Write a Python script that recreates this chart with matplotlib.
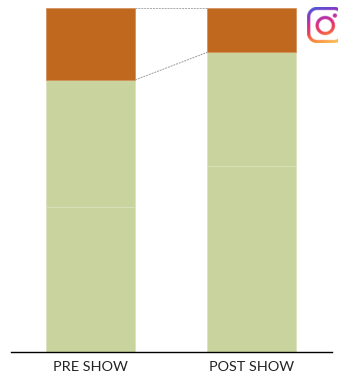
import numpy as np
from matplotlib import pyplot as plt
from matplotlib.colors import LinearSegmentedColormap

W, H = 338, 379

categories = ['PRE SHOW', 'POST SHOW']
bottom_seg = [42.2, 54.1]
middle_seg = [36.9, 33.0]
top_seg = [20.9, 12.9]

GREEN = '#c9d39d'
ORANGE = '#c1681f'


def add_icon(fig):
    # instagram logo, runs off the right edge of the picture
    ax = fig.add_axes([0, 0, 1, 1], facecolor='none')
    x0, x1, y0, y1 = 306.5, 343.0, 7.5, 43.5
    xs = np.linspace(x0, x1, 300)
    ys = np.linspace(y0, y1, 300)
    xx, yy = np.meshgrid(xs, ys)
    cx, cy = (x0 + x1) / 2, (y0 + y1) / 2
    half = (x1 - x0) / 2

    # rounded square outline, ring and dot as distance fields
    qx = np.abs(xx - cx) - (half - 10)
    qy = np.abs(yy - cy) - (half - 10)
    box = np.hypot(np.maximum(qx, 0), np.maximum(qy, 0)) + np.minimum(np.maximum(qx, qy), 0) - 10
    a_box = np.clip(.5 - (np.abs(box + 1.6) - 1.6) / .4, 0, 1)
    ring = np.hypot(xx - 324.5, yy - 26)
    a_ring = np.clip(.5 - (np.abs(ring - 8) - 1.6) / .4, 0, 1)
    dot = np.hypot(xx - 334, yy - 16)
    a_dot = np.clip(.5 - (dot - 2.1) / .4, 0, 1)
    alpha = np.maximum(np.maximum(a_box, a_ring), a_dot)

    u = (xx - x0) / (x1 - x0)
    v = (yy - y0) / (y1 - y0)
    t = np.clip(.85 * (1 - v) + .25 * (1 - u) - .05, 0, 1)
    cmap = LinearSegmentedColormap.from_list(
        'ig', ['#fdc95f', '#f7873a', '#ee3f55', '#d52d8f', '#8f35c0', '#4a5ad8'])
    rgba = cmap(t)
    rgba[..., 3] = alpha
    ax.imshow(rgba, extent=(x0, x1, y1, y0), aspect='auto', interpolation='bilinear')
    ax.set_xlim(0, W)
    ax.set_ylim(H, 0)
    ax.axis('off')


def generate_chart():
    fig = plt.figure(figsize=(W / 100, H / 100), dpi=100, facecolor='white')
    ax = fig.add_axes([11 / W, (H - 352) / H, 321 / W, 344 / H])
    ind = np.arange(len(categories))
    width = .553
    bottom = np.array(bottom_seg)
    middle = np.array(middle_seg)
    top = np.array(top_seg)
    ax.bar(ind, bottom, width=width, color=GREEN, edgecolor='#dbe2bd', lw=.5)
    ax.bar(ind, middle, width=width, bottom=bottom, color=GREEN, edgecolor='#dbe2bd', lw=.5)
    ax.bar(ind, top, width=width, bottom=bottom + middle, color=ORANGE, edgecolor='#d08d58', lw=.5)

    # dashed connectors between the bars
    x0, x1 = ind[0] + width / 2, ind[1] - width / 2
    levels = bottom + middle
    ax.plot([x0, x1], [levels[0], levels[1]], color='#9a9a9a', lw=.7, ls=(0, (2, 1)))
    ax.plot([x0, x1], [100, 100], color='#a8a8a8', lw=.7, ls=(0, (2, 1)), clip_on=False)

    ax.set_xlim(-.496, 1.5)
    ax.set_ylim(0, 100)
    ax.set_yticks([])
    ax.set_xticks(ind)
    ax.set_xticklabels(categories, fontfamily='Lato', fontsize=10.4, color='#222222')
    ax.tick_params(axis='x', length=0, pad=6.5)
    for s in ['top', 'left', 'right']:
        ax.spines[s].set_visible(False)
    ax.spines['bottom'].set_linewidth(1)
    ax.spines['bottom'].set_color('black')
    ax.patch.set_alpha(0)

    add_icon(fig)
    plt.savefig('out.png', dpi=100)


def main():
    generate_chart()


if __name__ == '__main__': main()
